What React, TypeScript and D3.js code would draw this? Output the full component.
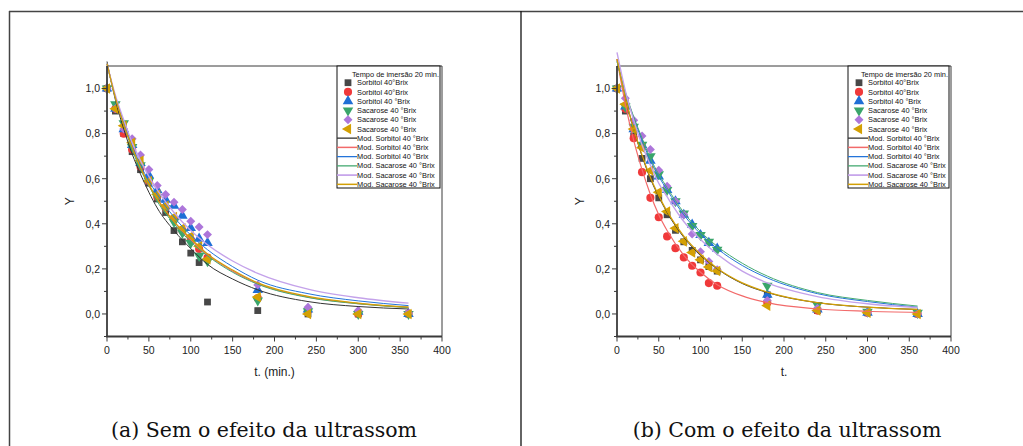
import React from "react";
import * as d3 from "d3";

// measured times (min)
const tPoints = [0, 10, 20, 30, 40, 50, 60, 70, 80, 90, 100, 110, 120, 180, 240, 300, 360];
const tModel = [0, 10, 20, 30, 40, 50, 60, 80, 100, 120, 150, 180, 240, 300, 360];

const legendTitle = "Tempo de imersão 20 min.";
const pointLabels = [
  "Sorbitol 40°Brix",
  "Sorbitol 40°Brix",
  "Sorbitol 40 °Brix",
  "Sacarose 40 °Brix",
  "Sacarose 40 °Brix",
  "Sacarose 40 °Brix",
];
const modelLabels = [
  "Mod. Sorbitol 40 °Brix",
  "Mod. Sorbitol 40 °Brix",
  "Mod. Sorbitol 40 °Brix",
  "Mod. Sacarose 40 °Brix",
  "Mod. Sacarose 40 °Brix",
  "Mod. Sacarose 40 °Brix",
];

// (a) sem ultrassom - points
const aSorbitol1 = [1.0, 0.9, 0.8, 0.72, 0.64, 0.58, 0.51, 0.45, 0.37, 0.32, 0.27, 0.228, 0.053, 0.015, 0.0, 0.0, 0.0];
const aSorbitol2 = [1.0, 0.91, 0.8, 0.73, 0.653, 0.59, 0.52, 0.47, 0.42, 0.37, 0.33, 0.288, 0.25, 0.07, 0.015, 0.0, 0.0];
const aSorbitol3 = [1.0, 0.91, 0.82, 0.75, 0.67, 0.615, 0.55, 0.507, 0.48, 0.436, 0.381, 0.334, 0.315, 0.107, 0.02, 0.01, 0.0];
const aSacarose1 = [1.0, 0.93, 0.846, 0.74, 0.66, 0.59, 0.52, 0.47, 0.408, 0.36, 0.315, 0.258, 0.234, 0.06, 0.012, 0.0, 0.0];
const aSacarose2 = [1.0, 0.91, 0.82, 0.777, 0.705, 0.641, 0.57, 0.53, 0.496, 0.463, 0.411, 0.386, 0.352, 0.129, 0.03, 0.015, 0.005];
const aSacarose3 = [1.0, 0.91, 0.835, 0.76, 0.68, 0.59, 0.53, 0.48, 0.43, 0.38, 0.345, 0.3, 0.243, 0.075, 0.0, 0.0, 0.0];

// (a) model curves
const aModSorbitol1 = [1.12, 0.95, 0.82, 0.71, 0.62, 0.54, 0.47, 0.37, 0.29, 0.22, 0.155, 0.107, 0.055, 0.033, 0.022];
const aModSorbitol2 = [1.11, 0.96, 0.84, 0.74, 0.65, 0.57, 0.51, 0.41, 0.33, 0.262, 0.19, 0.134, 0.075, 0.046, 0.03];
const aModSorbitol3 = [1.11, 0.96, 0.85, 0.75, 0.66, 0.59, 0.53, 0.43, 0.35, 0.285, 0.21, 0.15, 0.09, 0.058, 0.037];
const aModSacarose1 = [1.11, 0.96, 0.84, 0.73, 0.64, 0.57, 0.5, 0.4, 0.32, 0.258, 0.185, 0.132, 0.073, 0.045, 0.028];
const aModSacarose2 = [1.11, 0.97, 0.86, 0.76, 0.68, 0.61, 0.55, 0.45, 0.37, 0.307, 0.235, 0.18, 0.11, 0.072, 0.048];
const aModSacarose3 = [1.11, 0.96, 0.84, 0.74, 0.65, 0.575, 0.51, 0.41, 0.335, 0.266, 0.195, 0.138, 0.078, 0.048, 0.03];

// (b) com ultrassom - points
const bSorbitol1 = [1.0, 0.9, 0.79, 0.69, 0.6, 0.515, 0.44, 0.371, 0.32, 0.282, 0.24, 0.21, 0.19, 0.085, 0.015, 0.005, 0.0];
const bSorbitol2 = [1.0, 0.91, 0.78, 0.629, 0.515, 0.429, 0.344, 0.292, 0.251, 0.214, 0.184, 0.137, 0.125, 0.05, 0.015, 0.005, 0.0];
const bSorbitol3 = [1.0, 0.92, 0.82, 0.75, 0.68, 0.61, 0.55, 0.5, 0.44, 0.396, 0.35, 0.315, 0.29, 0.085, 0.02, 0.005, 0.0];
const bSacarose1 = [1.0, 0.92, 0.83, 0.75, 0.7, 0.62, 0.55, 0.5, 0.445, 0.39, 0.35, 0.32, 0.285, 0.125, 0.04, 0.01, 0.005];
const bSacarose2 = [1.0, 0.957, 0.859, 0.79, 0.73, 0.638, 0.567, 0.5, 0.44, 0.355, 0.276, 0.233, 0.196, 0.06, 0.025, 0.005, 0.0];
const bSacarose3 = [1.0, 0.93, 0.82, 0.737, 0.636, 0.54, 0.455, 0.38, 0.322, 0.273, 0.24, 0.208, 0.191, 0.037, 0.015, 0.005, 0.0];

// (b) model curves
const bModSorbitol1 = [1.13, 0.96, 0.82, 0.7, 0.6, 0.52, 0.45, 0.34, 0.26, 0.2, 0.135, 0.095, 0.05, 0.03, 0.02];
const bModSorbitol2 = [1.13, 0.93, 0.77, 0.64, 0.53, 0.44, 0.37, 0.26, 0.185, 0.13, 0.08, 0.05, 0.022, 0.012, 0.007];
const bModSorbitol3 = [1.12, 0.98, 0.87, 0.77, 0.68, 0.61, 0.55, 0.44, 0.355, 0.29, 0.215, 0.16, 0.09, 0.055, 0.03];
const bModSacarose1 = [1.12, 0.985, 0.875, 0.78, 0.69, 0.62, 0.56, 0.45, 0.365, 0.3, 0.225, 0.168, 0.095, 0.06, 0.035];
const bModSacarose2 = [1.16, 0.99, 0.86, 0.75, 0.66, 0.58, 0.52, 0.41, 0.33, 0.265, 0.19, 0.138, 0.077, 0.045, 0.028];
const bModSacarose3 = [1.13, 0.96, 0.82, 0.705, 0.605, 0.525, 0.455, 0.345, 0.265, 0.203, 0.138, 0.097, 0.05, 0.03, 0.02];

const pointColors = ["#474747", "#f0393a", "#1f6fd6", "#3aa56b", "#ad76da", "#d4a003"];
const lineColors = ["#333333", "#f26a6a", "#2474da", "#45aa72", "#c4a2ea", "#d29f05"];
const lineWidths = [1, 1.2, 1, 1, 1.4, 1.2];

const FONT = "'Liberation Sans', Arial, sans-serif";
const AXIS = "#3a3a3a";

function markerPath(i: number) {
  const sq = d3.symbol().type(d3.symbolSquare);
  const tri = d3.symbol().type(d3.symbolTriangle).size(48);
  if (i === 0) return { d: sq.size(46)() as string, rot: 0 };
  if (i === 1) return { d: d3.symbol().type(d3.symbolCircle).size(52)() as string, rot: 0 };
  if (i === 2) return { d: tri() as string, rot: 0 };
  if (i === 3) return { d: tri() as string, rot: 180 };
  if (i === 4) return { d: sq.size(40)() as string, rot: 45 };
  return { d: tri() as string, rot: -90 };
}

type PanelProps = {
  x0: number;
  x1: number;
  points: number[][];
  models: number[][];
  xTitle: string;
  caption: string;
  captionX: number;
  legendLeft: number;
};

function Panel({ x0, x1, points, models, xTitle, caption, captionX, legendLeft }: PanelProps) {
  const top = 66;
  const bottom = 336.5;
  const x = d3.scaleLinear().domain([0, 400]).range([x0, x1]);
  const y = d3.scaleLinear().domain([-0.1, 1.1]).range([bottom, top]);
  const line = d3
    .line<number>()
    .x((_, i) => x(tModel[i]))
    .y((v) => y(v))
    .curve(d3.curveMonotoneX);

  const xMajor = d3.range(0, 401, 50);
  const xMinor = d3.range(25, 400, 50);
  const yMajor = [0, 0.2, 0.4, 0.6, 0.8, 1.0];
  const yMinor = [-0.1, 0.1, 0.3, 0.5, 0.7, 0.9];
  const fmt = (v: number) => d3.format(".1f")(v).replace(".", ",");

  const rowY = (k: number) => 82.7 + k * 9.24;
  const mid = (x0 + x1) / 2;

  return (
    <g>
      {/* frame top / right */}
      <line x1={x0} x2={x1} y1={top} y2={top} stroke={AXIS} strokeWidth={1} />
      <line x1={x1} x2={x1} y1={top} y2={bottom} stroke={AXIS} strokeWidth={1} />

      {/* legend box */}
      <rect
        x={legendLeft}
        y={top}
        width={x1 - legendLeft - 2}
        height={122}
        fill="white"
        stroke="#111"
        strokeWidth={1}
      />
      <text x={x1 - 3} y={76.5} fontFamily={FONT} fontSize={7.4} textAnchor="end" fill="#111">
        {legendTitle}
      </text>
      {pointLabels.map((lab, i) => {
        const m = markerPath(i);
        return (
          <g key={"pl" + i}>
            <path
              d={m.d}
              transform={`translate(${legendLeft + 11},${rowY(i)}) rotate(${m.rot})`}
              fill={pointColors[i]}
            />
            <text x={legendLeft + 20} y={rowY(i) + 2.6} fontFamily={FONT} fontSize={7.4} fill="#111">
              {lab}
            </text>
          </g>
        );
      })}
      {modelLabels.map((lab, i) => (
        <g key={"ml" + i}>
          <line
            x1={legendLeft}
            x2={legendLeft + 20}
            y1={rowY(i + 6)}
            y2={rowY(i + 6)}
            stroke={lineColors[i]}
            strokeWidth={lineWidths[i] + 0.3}
          />
          <text x={legendLeft + 20} y={rowY(i + 6) + 2.6} fontFamily={FONT} fontSize={7.4} fill="#111">
            {lab}
          </text>
        </g>
      ))}

      {/* data points */}
      {points.map((s, i) => {
        const m = markerPath(i);
        return (
          <g key={"s" + i} fill={pointColors[i]}>
            {s.map((v, j) => (
              <path key={j} d={m.d} transform={`translate(${x(tPoints[j])},${y(v)}) rotate(${m.rot})`} />
            ))}
          </g>
        );
      })}

      {/* model curves */}
      {models.map((s, i) => (
        <path
          key={"m" + i}
          d={line(s) as string}
          fill="none"
          stroke={lineColors[i]}
          strokeWidth={lineWidths[i]}
        />
      ))}

      {/* axes */}
      <line x1={x0} x2={x0} y1={top} y2={bottom} stroke={AXIS} strokeWidth={1.8} />
      <line x1={x0 - 1} x2={x1} y1={bottom} y2={bottom} stroke={AXIS} strokeWidth={1.8} />
      {xMajor.map((t) => (
        <g key={"xt" + t}>
          <line x1={x(t)} x2={x(t)} y1={bottom} y2={bottom + 5} stroke={AXIS} strokeWidth={1} />
          <text x={x(t)} y={bottom + 17} textAnchor="middle" fontFamily={FONT} fontSize={10.5} fill="#222">
            {t}
          </text>
        </g>
      ))}
      {xMinor.map((t) => (
        <line key={"xm" + t} x1={x(t)} x2={x(t)} y1={bottom} y2={bottom + 3} stroke={AXIS} strokeWidth={1} />
      ))}
      {yMajor.map((v) => (
        <g key={"yt" + v}>
          <line x1={x0 - 5} x2={x0} y1={y(v)} y2={y(v)} stroke={AXIS} strokeWidth={1} />
          <text x={x0 - 7} y={y(v) + 3.8} textAnchor="end" fontFamily={FONT} fontSize={10.5} fill="#222">
            {fmt(v)}
          </text>
        </g>
      ))}
      {yMinor.map((v) => (
        <line key={"ym" + v} x1={x0 - 3} x2={x0} y1={y(v)} y2={y(v)} stroke={AXIS} strokeWidth={1} />
      ))}

      <text
        transform={`translate(${x0 - 33},${(top + bottom) / 2}) rotate(-90)`}
        textAnchor="middle"
        fontFamily={FONT}
        fontSize={12}
        fill="#222"
      >
        Y
      </text>
      <text x={mid} y={376} textAnchor="middle" fontFamily={FONT} fontSize={12} fill="#222">
        {xTitle}
      </text>

      <text
        x={captionX}
        y={437}
        textAnchor="middle"
        fontFamily="'DejaVu Serif', 'Liberation Serif', serif"
        fontSize={20.5}
        fill="#111"
      >
        {caption}
      </text>
    </g>
  );
}

export default function App() {
  return (
    <svg
      width={1023}
      height={446}
      style={{ position: "absolute", left: 0, top: 0, background: "white" }}
    >
      <rect x={0} y={0} width={1023} height={446} fill="white" />
      {/* figure borders */}
      <line x1={9} x2={1023} y1={11.5} y2={11.5} stroke="#444" strokeWidth={1.5} />
      <line x1={9.5} x2={9.5} y1={11} y2={446} stroke="#444" strokeWidth={1.5} />
      <line x1={521} x2={521} y1={11} y2={446} stroke="#111" strokeWidth={1.3} />

      <Panel
        x0={107}
        x1={442}
        points={[aSorbitol1, aSorbitol2, aSorbitol3, aSacarose1, aSacarose2, aSacarose3]}
        models={[aModSorbitol1, aModSorbitol2, aModSorbitol3, aModSacarose1, aModSacarose2, aModSacarose3]}
        xTitle="t. (min.)"
        caption="(a) Sem o efeito da ultrassom"
        captionX={264}
        legendLeft={337}
      />
      <Panel
        x0={617}
        x1={951}
        points={[bSorbitol1, bSorbitol2, bSorbitol3, bSacarose1, bSacarose2, bSacarose3]}
        models={[bModSorbitol1, bModSorbitol2, bModSorbitol3, bModSacarose1, bModSacarose2, bModSacarose3]}
        xTitle="t."
        caption="(b) Com o efeito da ultrassom"
        captionX={787}
        legendLeft={848}
      />
    </svg>
  );
}
